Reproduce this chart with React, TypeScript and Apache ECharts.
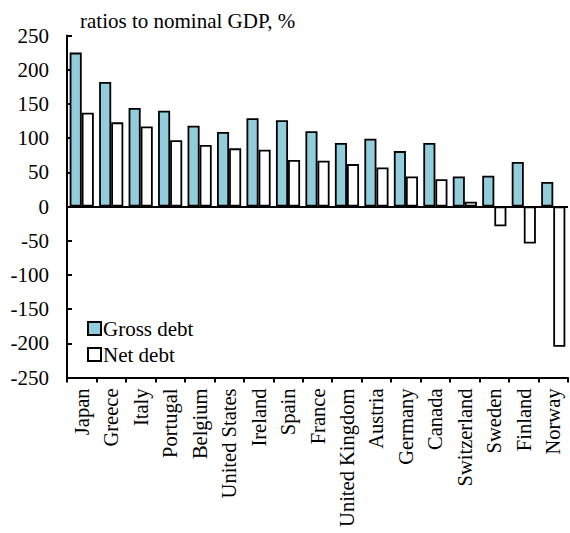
import React, { useEffect, useRef } from "react";
import * as echarts from "echarts";

const countries = [
  "Japan", "Greece", "Italy", "Portugal", "Belgium", "United States", "Ireland",
  "Spain", "France", "United Kingdom", "Austria", "Germany", "Canada",
  "Switzerland", "Sweden", "Finland", "Norway",
];
const grossDebt = [225, 182, 144, 140, 118, 109, 129, 126, 110, 93, 99, 81, 93, 44, 45, 65, 36];
const netDebt = [137, 123, 117, 97, 90, 85, 83, 68, 67, 62, 57, 44, 40, 7, -29, -54, -205];
const yTicks = { min: -250, max: 250, interval: 50 };

const FONT = "Liberation Serif";
const BLUE = "#92CDDC";

export default function App() {
  const ref = useRef<HTMLDivElement>(null);

  useEffect(() => {
    if (!ref.current) return;
    const chart = echarts.init(ref.current, undefined, { renderer: "svg" });
    chart.setOption({
      animation: false,
      textStyle: { fontFamily: FONT, color: "#000" },
      title: {
        text: "ratios to nominal GDP, %",
        left: 75,
        top: 5,
        textStyle: { fontFamily: FONT, fontSize: 21, fontWeight: "normal", color: "#000" },
      },
      legend: {
        orient: "vertical",
        left: 82,
        top: 313,
        itemWidth: 13,
        itemHeight: 13,
        itemGap: 5,
        icon: "rect",
        textStyle: { fontFamily: FONT, fontSize: 21, color: "#000", padding: [0, 0, 0, -3] },
        data: ["Gross debt", "Net debt"],
      },
      grid: { left: 67, right: 2, top: 35.5, bottom: 155.5, containLabel: false },
      xAxis: {
        type: "category",
        data: countries,
        axisLine: { onZero: false, lineStyle: { color: "#000", width: 2 } },
        axisTick: { show: true, alignWithLabel: false, length: 5, lineStyle: { color: "#000", width: 2 } },
        axisLabel: { rotate: 90, fontFamily: FONT, fontSize: 20.5, color: "#000", margin: 11, interval: 0 },
        splitLine: { show: false },
      },
      yAxis: {
        type: "value",
        min: yTicks.min,
        max: yTicks.max,
        interval: yTicks.interval,
        axisLine: { show: true, lineStyle: { color: "#000", width: 2 } },
        axisTick: { show: true, inside: true, length: 5, lineStyle: { color: "#000", width: 2 } },
        axisLabel: { fontFamily: FONT, fontSize: 21, color: "#000", margin: 18 },
        splitLine: { show: false },
      },
      series: [
        {
          name: "Gross debt",
          type: "bar",
          data: grossDebt,
          barGap: "0%",
          barCategoryGap: "18%",
          itemStyle: { color: BLUE, borderColor: "#000", borderWidth: 1.8 },
          markLine: {
            silent: true,
            symbol: "none",
            label: { show: false },
            lineStyle: { color: "#000", width: 2, type: "solid" },
            data: [{ yAxis: 0 }],
          },
        },
        {
          name: "Net debt",
          type: "bar",
          data: netDebt,
          barGap: "0%",
          barCategoryGap: "18%",
          itemStyle: { color: "#fff", borderColor: "#000", borderWidth: 1.8 },
        },
      ],
    });
    return () => chart.dispose();
  }, []);

  return <div ref={ref} style={{ width: 570, height: 533, position: "absolute", left: 0, top: 0 }} />;
}
